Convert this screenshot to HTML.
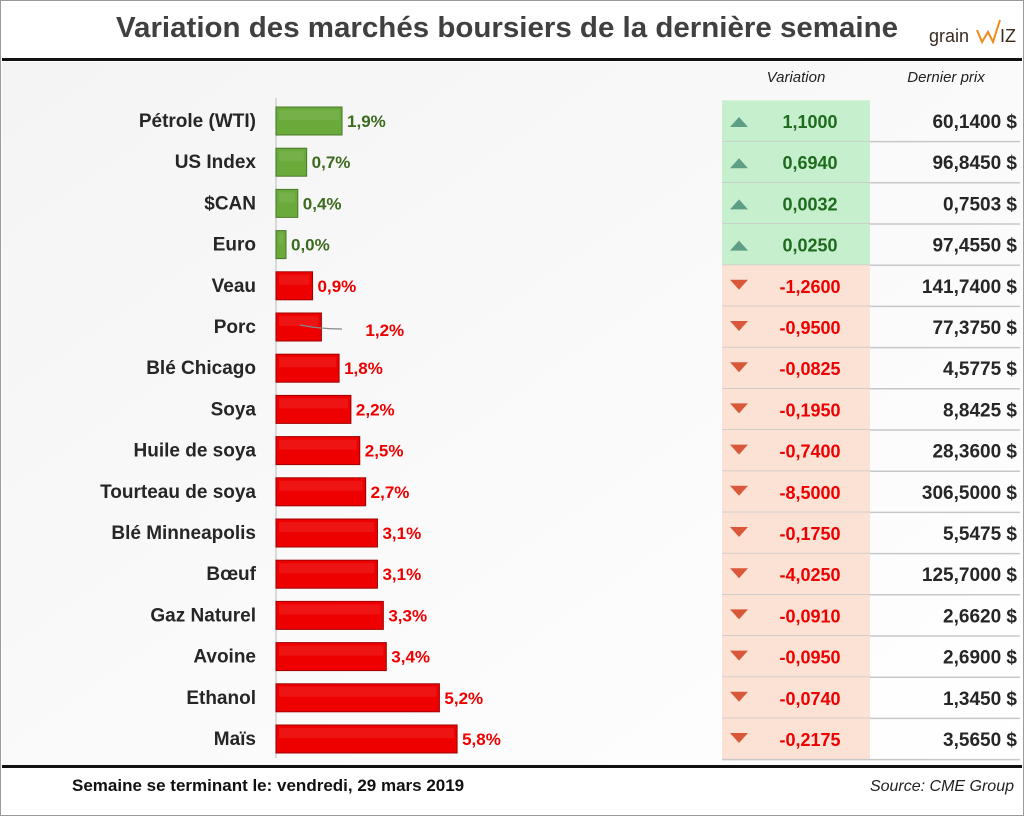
<!DOCTYPE html>
<html><head><meta charset="utf-8"><style>
body{margin:0;background:#fff}
svg{display:block;font-family:"Liberation Sans Narrow","Liberation Sans",sans-serif}
</style></head><body>
<svg id="c" width="1024" height="816" viewBox="0 0 1024 816" xmlns="http://www.w3.org/2000/svg">
<defs>
<linearGradient id="bg" x1="0" y1="0" x2="1" y2="1"><stop offset="0" stop-color="#f4f4f4"/><stop offset="1" stop-color="#fff"/></linearGradient>
</defs>
<rect x="0.5" y="0.5" width="1023" height="815" fill="#fff" stroke="#9a9a9a"/>
<rect x="2" y="62" width="1020" height="703" fill="url(#bg)"/>
<text x="507" y="37" text-anchor="middle" font-size="29" font-weight="bold" fill="#404040" textLength="782" lengthAdjust="spacingAndGlyphs">Variation des marchés boursiers de la dernière semaine</text>
<g>
<text x="929" y="42" font-size="18" fill="#3a2a20" font-family="Liberation Sans,sans-serif">grain</text>
<polyline points="977,30 982,42 988,32 993,42 1000,20" fill="none" stroke="#f08a1c" stroke-width="2"/>
<text x="1000" y="42" font-size="18" fill="#3a2a20" font-family="Liberation Sans,sans-serif">IZ</text>
</g>
<rect x="2" y="58" width="1020" height="3" fill="#111"/>
<rect x="2" y="765" width="1020" height="3" fill="#111"/>
<text x="796" y="82" text-anchor="middle" font-size="15" font-style="italic" fill="#222">Variation</text>
<text x="946" y="82" text-anchor="middle" font-size="15" font-style="italic" fill="#222">Dernier prix</text>
<line x1="276" y1="98" x2="276" y2="758" stroke="#cfcfcf" stroke-width="1.5"/>
<g id="rows"></g>
<text x="72" y="791" font-size="17" font-weight="bold" fill="#111" font-family="Liberation Sans,sans-serif">Semaine se terminant le: vendredi, 29 mars 2019</text>
<text x="1014" y="791" text-anchor="end" font-size="16" font-style="italic" fill="#222">Source: CME Group</text>
</svg>
<script>
const categories=["Pétrole (WTI)","US Index","$CAN","Euro","Veau","Porc","Blé Chicago","Soya","Huile de soya","Tourteau de soya","Blé Minneapolis","Bœuf","Gaz Naturel","Avoine","Ethanol","Maïs"];
const pctValues=[1.9,0.7,0.4,0.0,-0.9,-1.2,-1.8,-2.2,-2.5,-2.7,-3.1,-3.1,-3.3,-3.4,-5.2,-5.8];
const variations=["1,1000","0,6940","0,0032","0,0250","-1,2600","-0,9500","-0,0825","-0,1950","-0,7400","-8,5000","-0,1750","-4,0250","-0,0910","-0,0950","-0,0740","-0,2175"];
const prices=["60,1400 $","96,8450 $","0,7503 $","97,4550 $","141,7400 $","77,3750 $","4,5775 $","8,8425 $","28,3600 $","306,5000 $","5,5475 $","125,7000 $","2,6620 $","2,6900 $","1,3450 $","3,5650 $"];
const NS="http://www.w3.org/2000/svg";
const g=document.getElementById('rows');
const rowY=i=>121+i*41.2;
const barW=v=>10+Math.abs(v)*29.5;
function mk(tag,attrs,parent){const e=document.createElementNS(NS,tag);for(const k in attrs)e.setAttribute(k,attrs[k]);(parent||g).appendChild(e);return e;}
categories.forEach((c,i)=>{
  const y=rowY(i);
  const up=!variations[i].startsWith('-');
  const bgc=mk('rect',{x:722,y:y-20.6,width:148,height:41.2,fill:up?'#c6efce':'#fbe2d5'});
  
  
  const ln=mk('line',{x1:722,y1:y+20.6,x2:1020,y2:y+20.6,stroke:'#c8c8c8','stroke-width':1.5});
  
  
  const lab=mk('text',{x:256,y:y+6,'text-anchor':'end','font-size':19,'font-weight':'bold',fill:'#262626'});
  lab.textContent=c;
  
  
  const w=barW(pctValues[i]);
  const col=pctValues[i]>=0?'#6aaa3a':'#ee0000';
  const bar=mk('rect',{x:276,y:y-14,width:w,height:28,fill:col,stroke:pctValues[i]>=0?'#4a7a2a':'#a00000','stroke-width':1});
  
  
  const hl=mk('rect',{x:279,y:y-11,width:Math.max(w-6,1),height:10,fill:'#fff',opacity:0.08});
  
  
  const off=(i===5)?44:5;
  const vl=mk('text',{x:276+w+off,y:y+6+(i===5?3:0),'font-size':17,'font-weight':'bold',fill:pctValues[i]>=0?'#3b6b1e':'#ee0000'});
  vl.textContent=Math.abs(pctValues[i]).toFixed(1).replace('.',',')+'%';
  
  
  const tri=mk('polygon',{points:up?`730,${y+6} 748,${y+6} 739,${y-4}`:`730,${y-6} 748,${y-6} 739,${y+4}`,fill:up?'#5e9e86':'#d9583a'});
  
  
  const vt=mk('text',{x:810,y:y+7,'text-anchor':'middle','font-size':18,'font-weight':'bold',fill:up?'#1e6b1e':'#ee0000'});
  vt.textContent=variations[i];
  
  
  const pt=mk('text',{x:1017,y:y+7,'text-anchor':'end','font-size':19,'font-weight':'bold',fill:'#262626'});
  pt.textContent=prices[i];
  
  
});
const pl=mk('path',{d:`M300 ${rowY(5)-2} Q320 ${rowY(5)+2} 342 ${rowY(5)+2}`,fill:'none',stroke:'#888','stroke-width':1.2});


</script>
</body></html>
